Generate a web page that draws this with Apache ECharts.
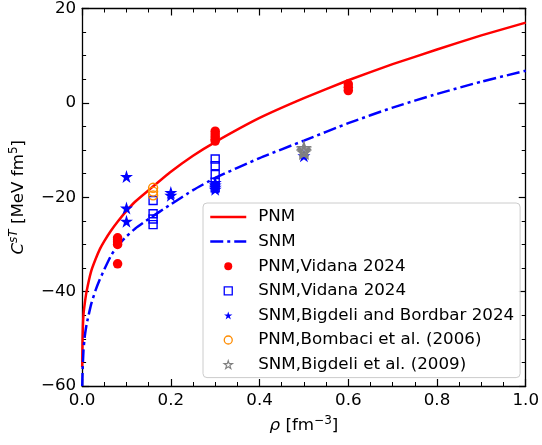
<!DOCTYPE html>
<html>
<head>
<meta charset="utf-8">
<script src="https://cdn.jsdelivr.net/npm/echarts@6/dist/echarts.min.js"></script>
<style>
html,body{margin:0;padding:0;background:#fff;}
#chart{width:542px;height:445px;}
</style>
</head>
<body>
<div id="chart"></div>
<script>
// ---- data ----
const pnmCurveRho = [0.0002, 0.001, 0.003, 0.006, 0.01, 0.02, 0.03, 0.04, 0.05, 0.065, 0.08, 0.1, 0.12, 0.15, 0.2, 0.25, 0.3, 0.4, 0.5, 0.6, 0.7, 0.8, 0.9, 1.0];
const pnmCurveC   = [-56, -50, -45, -42.5, -40, -35.8, -33.2, -31.0, -29.3, -27.1, -25.2, -22.9, -20.9, -18.5, -14.6, -11.2, -8.3, -3.2, 1.0, 4.8, 8.2, 11.3, 14.3, 17.0];
const snmCurveRho = [0.0003, 0.001, 0.003, 0.006, 0.01, 0.02, 0.03, 0.04, 0.05, 0.065, 0.08, 0.1, 0.12, 0.15, 0.2, 0.25, 0.3, 0.4, 0.5, 0.6, 0.7, 0.8, 0.9, 1.0];
const snmCurveC   = [-60, -57, -52.5, -49.5, -47, -42.8, -39.8, -37.4, -35.3, -32.4, -30.3, -28.3, -26.6, -24.6, -21.5, -18.5, -15.9, -11.7, -8.0, -4.3, -1.0, 1.9, 4.5, 6.8];

const pnmVidanaRho = [0.08, 0.08, 0.08, 0.08, 0.08, 0.3, 0.3, 0.3, 0.3, 0.3, 0.6, 0.6, 0.6];
const pnmVidanaC   = [-28.6, -29.0, -29.5, -30.0, -34.1, -6.0, -6.6, -7.2, -7.7, -8.1, 2.6, 3.3, 4.0];

const snmVidanaRho = [0.16, 0.16, 0.16, 0.16, 0.3, 0.3, 0.3, 0.3, 0.3];
const snmVidanaC   = [-20.7, -23.5, -24.6, -25.8, -11.9, -13.3, -15.2, -16.8, -18.0];

const snmBBRho = [0.1, 0.1, 0.1, 0.2, 0.2, 0.3, 0.3, 0.3, 0.3, 0.5];
const snmBBC   = [-15.6, -22.3, -25.1, -19.0, -19.6, -16.9, -17.4, -17.9, -18.3, -11.2];

const pnmBombaciRho = [0.16, 0.16, 0.16];
const pnmBombaciC   = [-18.0, -18.8, -19.6];

const snmBigdeliRho = [0.5, 0.5, 0.5, 0.5];
const snmBigdeliC   = [-9.6, -9.9, -10.2, -10.5];

const seriesNames = ['PNM', 'SNM', 'PNM,Vidana 2024', 'SNM,Vidana 2024',
  'SNM,Bigdeli and Bordbar 2024', 'PNM,Bombaci et al. (2006)', 'SNM,Bigdeli et al. (2009)'];

// ---- helpers ----
function zip(a, b) { return a.map((v, i) => [v, b[i]]); }
function starPath() {
  const pts = [];
  for (let i = 0; i < 10; i++) {
    const r = i % 2 === 0 ? 1 : 0.382;
    const a = (-90 + i * 36) * Math.PI / 180;
    pts.push((r * Math.cos(a)).toFixed(4) + ' ' + (r * Math.sin(a)).toFixed(4));
  }
  return 'path://M' + pts.join(' L') + ' Z';
}
const STAR = starPath();
const SQUARE = 'path://M0 0 L1 0 L1 1 L0 1 Z';
const FONT = 'DejaVu Sans';
const FS = 16.7;
const RED = '#ff0000', BLUE = '#0000ff', ORANGE = '#ff8c00', GRAY = '#808080';
const DASHDOT = [13, 4, 3, 4];
const minusFmt = v => String(Math.round(v * 100) / 100).replace('-', '\u2212');
const xFmt = v => v.toFixed(1);

function xAxisBase(pos, labels) {
  return {
    type: 'value', position: pos, min: 0, max: 1, interval: 0.2,
    axisLine: {show: true, onZero: false, lineStyle: {color: '#000', width: 1.3}},
    axisTick: {show: true, inside: true, length: 7, lineStyle: {color: '#000', width: 1.2}},
    minorTick: {show: true, splitNumber: 4, length: 4, lineStyle: {color: '#000', width: 1}},
    splitLine: {show: false},
    axisLabel: labels ? {show: true, color: '#000', fontFamily: FONT, fontSize: FS, margin: 6, formatter: xFmt} : {show: false}
  };
}
function yAxisBase(pos, labels) {
  return {
    type: 'value', position: pos, min: -60, max: 20, interval: 20,
    axisLine: {show: true, onZero: false, lineStyle: {color: '#000', width: 1.3}},
    axisTick: {show: true, inside: true, length: 7, lineStyle: {color: '#000', width: 1.2}},
    minorTick: {show: true, splitNumber: 4, length: 4, lineStyle: {color: '#000', width: 1}},
    splitLine: {show: false},
    axisLabel: labels ? {show: true, color: '#000', fontFamily: FONT, fontSize: FS, margin: 6, formatter: minusFmt} : {show: false}
  };
}

const xBottom = xAxisBase('bottom', true);
xBottom.name = '{it|\u03c1} [fm{sup|\u22123}]';
xBottom.nameLocation = 'middle';
xBottom.nameGap = 29;
xBottom.nameTextStyle = {
  color: '#000', fontFamily: FONT, fontSize: FS, lineHeight: 22,
  rich: {
    it: {fontStyle: 'italic', fontFamily: FONT, fontSize: FS, lineHeight: 22},
    sup: {fontFamily: FONT, fontSize: 12, verticalAlign: 'top', lineHeight: 12}
  }
};
const xTop = xAxisBase('top', false);

const yLeft = yAxisBase('left', true);
yLeft.name = '{it|C}{supi|sT} [MeV fm{sup|5}]';
yLeft.nameLocation = 'middle';
yLeft.nameGap = 48;
yLeft.nameRotate = 90;
yLeft.nameTextStyle = {
  color: '#000', fontFamily: FONT, fontSize: FS, lineHeight: 22,
  rich: {
    it: {fontStyle: 'italic', fontFamily: FONT, fontSize: FS, lineHeight: 22},
    supi: {fontStyle: 'italic', fontFamily: FONT, fontSize: 12, verticalAlign: 'top', lineHeight: 12},
    sup: {fontFamily: FONT, fontSize: 12, verticalAlign: 'top', lineHeight: 12}
  }
};
const yRight = yAxisBase('right', false);

const HIDDEN = {color: 'rgba(0,0,0,0)', borderColor: 'rgba(0,0,0,0)', borderWidth: 0};

const option = {
  animation: false,
  backgroundColor: '#fff',
  grid: {left: 79, right: 14, top: 7, bottom: 59, containLabel: false},
  xAxis: [xBottom, xTop],
  yAxis: [yLeft, yRight],
  legend: {
    show: true,
    orient: 'vertical',
    left: 203, top: 203,
    data: [
      {name: seriesNames[0], itemStyle: HIDDEN, lineStyle: {color: RED, width: 2.5}},
      {name: seriesNames[1], itemStyle: HIDDEN, lineStyle: {color: BLUE, width: 2.5, type: DASHDOT}},
      {name: seriesNames[2], icon: 'circle', itemStyle: {color: RED}},
      {name: seriesNames[3], icon: SQUARE, itemStyle: {color: 'rgba(0,0,0,0)', borderColor: BLUE, borderWidth: 1.3}},
      {name: seriesNames[4], icon: STAR, itemStyle: {color: BLUE}},
      {name: seriesNames[5], icon: 'circle', itemStyle: {color: 'rgba(0,0,0,0)', borderColor: ORANGE, borderWidth: 1.3}},
      {name: seriesNames[6], icon: STAR, itemStyle: {color: 'rgba(0,0,0,0)', borderColor: GRAY, borderWidth: 1.1}}
    ],
    itemWidth: 36, itemHeight: 8, itemGap: 4.6,
    symbolKeepAspect: true,
    padding: [4, 6, 3, 6],
    backgroundColor: 'rgba(255,255,255,0.85)',
    borderColor: '#cccccc', borderWidth: 1, borderRadius: 4,
    textStyle: {color: '#000', fontFamily: FONT, fontSize: FS, lineHeight: 20, padding: [0, 0, 0, 7]},
    selectedMode: false
  },
  series: [
    {name: seriesNames[0], type: 'line', data: zip(pnmCurveRho, pnmCurveC), showSymbol: false, symbol: 'none',
     smooth: 0.15, lineStyle: {color: RED, width: 2.5}, itemStyle: HIDDEN, z: 3},
    {name: seriesNames[1], type: 'line', data: zip(snmCurveRho, snmCurveC), showSymbol: false, symbol: 'none',
     smooth: 0.15, lineStyle: {color: BLUE, width: 2.5, type: DASHDOT}, itemStyle: HIDDEN, z: 3},
    {name: seriesNames[2], type: 'scatter', data: zip(pnmVidanaRho, pnmVidanaC), symbol: 'circle', symbolSize: 9.5,
     itemStyle: {color: RED, opacity: 1}, z: 4},
    {name: seriesNames[3], type: 'scatter', data: zip(snmVidanaRho, snmVidanaC), symbol: SQUARE, symbolSize: 8,
     itemStyle: {color: 'rgba(0,0,0,0)', borderColor: BLUE, borderWidth: 1.4, opacity: 1}, z: 4},
    {name: seriesNames[4], type: 'scatter', data: zip(snmBBRho, snmBBC), symbol: STAR, symbolSize: 13,
     itemStyle: {color: BLUE, opacity: 1}, z: 4},
    {name: seriesNames[5], type: 'scatter', data: zip(pnmBombaciRho, pnmBombaciC), symbol: 'circle', symbolSize: 9,
     itemStyle: {color: 'rgba(0,0,0,0)', borderColor: ORANGE, borderWidth: 1.4, opacity: 1}, z: 5},
    {name: seriesNames[6], type: 'scatter', data: zip(snmBigdeliRho, snmBigdeliC), symbol: STAR, symbolSize: 12,
     itemStyle: {color: 'rgba(0,0,0,0)', borderColor: GRAY, borderWidth: 1.4, opacity: 1}, z: 5}
  ]
};

const chart = echarts.init(document.getElementById('chart'), null, {renderer: 'canvas'});
chart.setOption(option);
</script>
</body>
</html>
